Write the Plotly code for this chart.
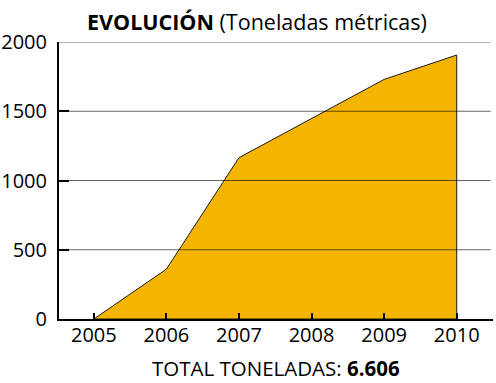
import plotly.graph_objects as go

years = [2005, 2006, 2007, 2008, 2009, 2010]
toneladas = [0, 360, 1165, 1445, 1730, 1906]
y_ticks = [0, 500, 1000, 1500, 2000]
title_bold = "EVOLUCIÓN"
title_rest = " (Toneladas métricas)"
footer_label = "TOTAL TONELADAS: "
footer_value = "6.606"

FONT = "Open Sans"

fig = go.Figure()
fig.add_trace(go.Scatter(
    x=years + [years[-1], years[0]],
    y=toneladas + [0, 0],
    mode="lines",
    fill="toself",
    fillcolor="#F5B400",
    line=dict(color="#1a1a1a", width=1),
    hoverinfo="skip",
    showlegend=False,
))

for v in y_ticks[1:]:
    fig.add_shape(type="line", xref="paper", yref="y", x0=0, x1=0.995, y0=v, y1=v,
                  line=dict(color="rgba(0,0,0,0.6)", width=1), layer="above")

fig.update_layout(
    width=496, height=383,
    margin=dict(l=59, r=3, t=42, b=64),
    paper_bgcolor="white", plot_bgcolor="white",
    font=dict(family=FONT, color="black", size=20),
    xaxis=dict(
        range=[2004.52, 2010.5],
        tickvals=years, ticktext=[str(y) for y in years],
        ticks="inside", ticklen=6, tickwidth=1.5, tickcolor="black",
        showline=True, linecolor="black", linewidth=2,
        showgrid=False, zeroline=False, layer="above traces",
        tickfont=dict(size=20), automargin=False, ticklabelstandoff=-3,
    ),
    yaxis=dict(
        range=[0, 2000],
        tickvals=y_ticks,
        ticks="inside", ticklen=10, tickwidth=1.5, tickcolor="black",
        showline=True, linecolor="black", linewidth=2,
        showgrid=False, zeroline=False, layer="above traces",
        tickfont=dict(size=20), ticklabelstandoff=6, automargin=False,
    ),
    annotations=[
        dict(text=f"<b>{title_bold}</b>{title_rest}", xref="paper", yref="paper",
             x=(257 - 59) / 434, y=1, yshift=21, xanchor="center", yanchor="middle",
             showarrow=False, font=dict(size=21.5, family=FONT)),
        dict(text=f"{footer_label}<b>{footer_value}</b>", xref="paper", yref="paper",
             x=0.5, y=0, yshift=-49, xanchor="center", yanchor="middle",
             showarrow=False, font=dict(size=20.5, family=FONT)),
    ],
)

fig.write_html("out.html", config={"displayModeBar": False},
               post_script="document.body.style.margin='0';")
